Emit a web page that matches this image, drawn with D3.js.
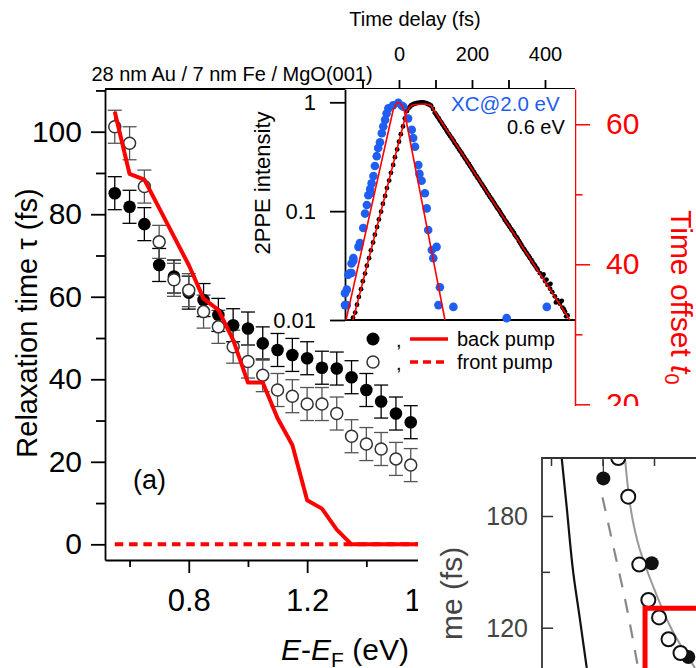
<!DOCTYPE html>
<html>
<head>
<meta charset="utf-8">
<script src="https://cdn.jsdelivr.net/npm/d3@7"></script>
<style>
  body { margin: 0; background: #fff; }
  svg { display: block; font-family: "Liberation Sans", Arial, sans-serif; }
</style>
</head>
<body>
<svg id="chart" width="696" height="668"></svg>
<script>
// ---- panel (a): relaxation time vs energy ----
const energy = [0.55, 0.60, 0.65, 0.70, 0.75, 0.80, 0.85, 0.90, 0.95, 1.00, 1.05,
                1.10, 1.15, 1.20, 1.25, 1.30, 1.35, 1.40, 1.45, 1.50, 1.55];
const tauBack  = [85.1, 81.8, 77.6, 67.7, 64.9, 61.0, 59.2, 55.6, 53.1, 52.3, 48.7,
                  47.1, 45.9, 45.1, 42.8, 42.6, 40.5, 37.4, 34.6, 31.7, 29.6];
const tauFront = [101.2, 97.2, 86.7, 73.3, 64.1, 61.6, 56.4, 52.7, 47.9, 44.3, 41.0,
                  37.4, 35.9, 34.0, 34.0, 31.7, 26.2, 24.3, 23.1, 20.7, 19.2];
const errBack  = [4, 4, 4, 4, 4, 4, 4, 4, 4, 4, 4, 4, 4, 4, 4, 4, 4, 4, 4, 4, 4];
const errFront = [4, 4, 4, 4, 4, 4, 4, 4, 4, 4, 4, 4, 4, 4, 4, 4, 4, 4, 4, 4, 4];

// time offset t0 (right axis)
const t0Energy = [0.55, 0.60, 0.65, 0.80, 0.85, 0.90, 0.95, 1.00, 1.05, 1.10,
                  1.15, 1.20, 1.25, 1.30, 1.35, 1.60];
const t0Back   = [61.8, 52.9, 52.1, 39.9, 35.1, 33.5, 29.2, 23.1, 23.1, 18.0,
                  14.2, 6.3, 5.1, 2.1, 0, 0];
const t0FrontEnergy = [0.55, 1.60];
const t0Front  = [0, 0];

const yTicksMain = [0, 20, 40, 60, 80, 100];
const xTicksMain = [0.8, 1.2, 1.6, 2.0];

// ---- inset: 2PPE intensity vs time delay ----
const xcPoints = [
  [-2, 0.99], [-16, 0.94], [12, 0.91], [-29, 0.88], [-34, 0.79], [-38, 0.69], [-43, 0.60],
  [-47, 0.52], [-52, 0.43], [-57, 0.38], [-61, 0.32], [-66, 0.26], [-70, 0.21], [-75, 0.18],
  [-79, 0.16], [-84, 0.14], [-79, 0.146], [-88, 0.114], [-93, 0.095], [-98, 0.070],
  [-107, 0.051], [-111, 0.047], [-125, 0.037], [-125, 0.035], [-130, 0.033], [-130, 0.027],
  [-139, 0.026], [-134, 0.027], [-143, 0.019], [-148, 0.0176], [-148, 0.0137], [-143, 0.0137],
  [8, 0.93], [25, 0.71], [35, 0.56], [39, 0.47], [44, 0.39], [53, 0.265], [56, 0.22],
  [62, 0.19], [71, 0.146], [76, 0.106], [80, 0.067], [90, 0.044], [103, 0.047], [94, 0.037],
  [112, 0.020], [108, 0.0137], [149, 0.0132], [295, 0.0104], [405, 0.0132]
];
const ev06Points = [
  [-126, 0.0105], [-120, 0.0117], [-115, 0.0138], [-110, 0.0163], [-104, 0.0192], [-99, 0.0227],
  [-93, 0.0267], [-88, 0.0315], [-82, 0.037], [-77, 0.0437], [-71, 0.0515], [-66, 0.0607],
  [-60, 0.0715], [-55, 0.084], [-49, 0.099], [-44, 0.117], [-38, 0.138], [-33, 0.163],
  [-27, 0.191], [-22, 0.225], [-16, 0.266], [-11, 0.313], [-5, 0.369], [0, 0.435], [5, 0.51],
  [11, 0.60], [16, 0.71], [22, 0.83], [26, 0.88], [30, 0.91], [34, 0.94], [38, 0.955],
  [42, 0.97], [47, 0.98], [51, 0.99], [55, 0.99], [59, 1.0], [63, 1.0], [67, 1.0], [71, 0.99],
  [75, 0.98], [79, 0.965], [84, 0.95], [88, 0.93], [93, 0.87], [98, 0.80], [102, 0.77],
  [105, 0.74], [109, 0.71], [112, 0.68], [116, 0.655], [119, 0.63], [123, 0.60], [126, 0.58],
  [130, 0.555], [133, 0.53], [137, 0.51], [140, 0.49], [144, 0.47], [147, 0.455], [150, 0.44],
  [153, 0.42], [157, 0.405], [160, 0.39], [164, 0.372], [167, 0.358], [171, 0.345], [174, 0.33],
  [178, 0.316], [181, 0.304], [185, 0.292], [188, 0.28], [192, 0.27], [195, 0.259], [198, 0.25],
  [201, 0.24], [205, 0.23], [208, 0.22], [212, 0.211], [215, 0.203], [219, 0.195], [222, 0.187],
  [226, 0.179], [229, 0.172], [233, 0.165], [236, 0.159], [239, 0.153], [242, 0.147],
  [246, 0.141], [249, 0.135], [253, 0.13], [256, 0.125], [260, 0.12], [263, 0.115],
  [267, 0.11], [270, 0.106], [274, 0.102], [277, 0.098], [280, 0.094], [283, 0.091],
  [287, 0.087], [290, 0.083], [294, 0.08], [297, 0.077], [301, 0.074], [304, 0.071],
  [308, 0.068], [311, 0.066], [315, 0.063], [318, 0.060], [322, 0.058], [325, 0.056],
  [329, 0.053], [332, 0.051], [335, 0.049], [338, 0.047], [342, 0.045], [345, 0.0435],
  [349, 0.0415], [352, 0.040], [356, 0.0385], [359, 0.037], [363, 0.0355], [366, 0.034],
  [370, 0.0325], [373, 0.0315], [377, 0.030], [380, 0.029], [386, 0.0269], [393, 0.025],
  [400, 0.0228], [407, 0.021], [414, 0.0194], [420, 0.018], [427, 0.0165], [434, 0.0152],
  [441, 0.0141], [448, 0.013], [455, 0.0119], [462, 0.011], [415, 0.0215], [430, 0.0145],
  [446, 0.0150], [452, 0.0125], [458, 0.0108], [396, 0.0262], [404, 0.0235]
];
const xcFit   = [[-145, 0.01], [-16, 0.85], [-10, 0.93], [-5, 0.98], [-2, 1.0], [3, 0.98],
                 [8, 0.93], [14, 0.85], [126, 0.01]];
const ev06Fit = [[-126, 0.01], [21, 0.82], [30, 0.91], [37, 0.94], [44, 0.955], [71, 0.965],
                 [80, 0.955], [88, 0.93], [468, 0.01]];
const delayTicks = [-100, 0, 100, 200, 300, 400];
const delayLabels = [0, 200, 400];
const intensityTicks = [0.01, 0.1, 1];

// ---- part of panel (b) peeking in at the lower right ----
const bFilled = [[1.508, 200.2], [1.978, 154.6], [2.333, 104.3]];
const bOpen   = [[1.653, 211.1], [1.75, 190.4], [1.857, 153.9], [1.945, 134.9],
                 [2.049, 125.5], [2.141, 113.8], [2.257, 106.4]];
const bBlackLine = [[1.104, 211.1], [1.152, 185], [1.217, 149.2], [1.282, 124.1], [1.347, 98.4]];
const bGrayLine  = [[1.718, 211.1], [1.864, 161.7], [1.993, 142], [2.175, 118.8], [2.398, 98.4]];
const bGrayDash  = [[1.50, 190], [1.62, 160], [1.72, 135], [1.84, 100]];
const bTicksY = [120, 180];
const bMinorY = [150];
const bTicksX = [1.0, 1.5, 2.0];

const svg = d3.select('#chart');
svg.append('rect').attr('width', 696).attr('height', 668).attr('fill', '#fff');

// scales
const x = d3.scaleLinear().domain([0.517, 2.105]).range([105, 575]);
const yL = d3.scaleLinear().domain([-3.8, 110.35]).range([560, 89]);
const yR = d3.scaleLinear().domain([-2.24, 65.04]).range([560, 89]);

const styleAxis = (g, color, width) => {
	g.selectAll('path, line').attr('stroke', color).attr('stroke-width', width);
	g.selectAll('text').attr('fill', color).attr('font-family', null);
};

// top frame line
svg.append('line')
	.attr('x1', 105).attr('x2', 575).attr('y1', 89).attr('y2', 89)
	.attr('stroke', '#000').attr('stroke-width', 1.8);

// left axis
const gLeft = svg.append('g').attr('transform', 'translate(105,0)')
	.call(d3.axisLeft(yL).tickValues(yTicksMain).tickSize(14).tickSizeOuter(0).tickPadding(9))
	.attr('font-size', 30);
svg.append('g').attr('transform', 'translate(105,0)')
	.call(d3.axisLeft(yL).tickValues([10, 30, 50, 70, 90, 110]).tickSize(9).tickFormat(''))
	.call(g => g.select('.domain').remove())
	.call(g => styleAxis(g, '#000', 1.8));
styleAxis(gLeft, '#000', 1.8);

// bottom axis
const gBottom = svg.append('g').attr('transform', 'translate(0,560)')
	.call(d3.axisBottom(x).tickValues(xTicksMain).tickSize(13).tickSizeOuter(0)
		.tickPadding(16).tickFormat(d3.format('.1f')))
	.attr('font-size', 31);
svg.append('g').attr('transform', 'translate(0,560)')
	.call(d3.axisBottom(x).tickValues([0.6, 1.0, 1.4, 1.8]).tickSize(7).tickFormat(''))
	.call(g => g.select('.domain').remove())
	.call(g => styleAxis(g, '#000', 1.8));
styleAxis(gBottom, '#000', 1.8);

// right axis (red)
const gRight = svg.append('g').attr('transform', 'translate(575,0)')
	.call(d3.axisRight(yR).tickValues([0, 20, 40, 60]).tickSize(15).tickSizeOuter(0).tickPadding(16))
	.attr('font-size', 30);
svg.append('g').attr('transform', 'translate(575,0)')
	.call(d3.axisRight(yR).tickValues([10, 30, 50]).tickSize(7.5).tickFormat(''))
	.call(g => g.select('.domain').remove())
	.call(g => styleAxis(g, '#f00', 1.5));
styleAxis(gRight, '#f00', 1.5);

// ---- inset ----
const xT = d3.scaleLinear().domain([-147.9, 482.2]).range([345, 575]);
const yLog = d3.scaleLog().domain([0.01, 1.325]).range([320, 89]);

const inset = svg.append('g');
inset.append('rect')
	.attr('x', 345).attr('y', 89).attr('width', 230).attr('height', 231)
	.attr('fill', '#fff');

const gTop = svg.append('g').attr('transform', 'translate(0,89)')
	.call(d3.axisTop(xT).tickValues(delayTicks).tickSize(9).tickSizeOuter(0).tickPadding(19)
		.tickFormat(d => delayLabels.includes(d) ? d : ''))
	.attr('font-size', 20);
gTop.select('.domain').remove();
styleAxis(gTop, '#000', 1.8);

const gInsetL = inset.append('g').attr('transform', 'translate(345,0)')
	.call(d3.axisLeft(yLog).tickValues(intensityTicks).tickSize(15).tickSizeOuter(0).tickPadding(14)
		.tickFormat(d => d))
	.attr('font-size', 22);
styleAxis(gInsetL, '#000', 1.8);
inset.append('line')
	.attr('x1', 345).attr('x2', 575).attr('y1', 320).attr('y2', 320)
	.attr('stroke', '#000').attr('stroke-width', 1.8);

inset.selectAll('circle.ev06')
	.data(ev06Points)
	.join('circle')
	.attr('class', 'ev06')
	.attr('cx', d => xT(d[0]))
	.attr('cy', d => yLog(d[1]))
	.attr('r', 2.4)
	.attr('fill', '#000');

inset.selectAll('circle.xc')
	.data(xcPoints)
	.join('circle')
	.attr('class', 'xc')
	.attr('cx', d => xT(d[0]))
	.attr('cy', d => yLog(d[1]))
	.attr('r', 4.3)
	.attr('fill', '#1e5ef2');

const fitLine = d3.line().x(d => xT(d[0])).y(d => yLog(d[1]));
[xcFit, ev06Fit].forEach(fit => {
	inset.append('path')
		.attr('d', fitLine(fit))
		.attr('fill', 'none')
		.attr('stroke', '#f00')
		.attr('stroke-width', 1.6)
		.attr('stroke-linejoin', 'round');
});

inset.append('text')
	.attr('x', 451).attr('y', 111)
	.attr('font-size', 20.5).attr('fill', '#1e5ef2')
	.text('XC@2.0 eV');
inset.append('text')
	.attr('x', 507).attr('y', 134)
	.attr('font-size', 20).attr('fill', '#000')
	.text('0.6 eV');
inset.append('text')
	.attr('transform', 'translate(270,183) rotate(-90)')
	.attr('text-anchor', 'middle')
	.attr('font-size', 22)
	.text('2PPE intensity');

// ---- panel (a) data ----
const plot = svg.append('g');
const rows = energy.map((e, i) => ({
	e, back: tauBack[i], front: tauFront[i], eb: errBack[i], ef: errFront[i]
}));

const errBar = (sel, key, errKey, color) => {
	const g = sel.append('g').attr('stroke', color).attr('stroke-width', 1.3);
	rows.forEach(d => {
		const cx = x(d.e);
		const y1 = yL(d[key] - d[errKey]);
		const y2 = yL(d[key] + d[errKey]);
		g.append('line').attr('x1', cx).attr('x2', cx).attr('y1', y1).attr('y2', y2);
		g.append('line').attr('x1', cx - 7).attr('x2', cx + 7).attr('y1', y1).attr('y2', y1);
		g.append('line').attr('x1', cx - 7).attr('x2', cx + 7).attr('y1', y2).attr('y2', y2);
	});
};
errBar(plot, 'back', 'eb', '#000');
errBar(plot, 'front', 'ef', '#555');

plot.selectAll('circle.back')
	.data(rows)
	.join('circle')
	.attr('class', 'back')
	.attr('cx', d => x(d.e))
	.attr('cy', d => yL(d.back))
	.attr('r', 6.3)
	.attr('fill', '#000');

plot.selectAll('circle.front')
	.data(rows)
	.join('circle')
	.attr('class', 'front')
	.attr('cx', d => x(d.e))
	.attr('cy', d => yL(d.front))
	.attr('r', 6)
	.attr('fill', '#fff')
	.attr('stroke', '#333')
	.attr('stroke-width', 1.5);

const t0Line = d3.line().x(d => x(d[0])).y(d => yR(d[1]));
plot.append('path')
	.attr('d', t0Line(t0FrontEnergy.map((e, i) => [e, t0Front[i]])))
	.attr('fill', 'none')
	.attr('stroke', '#f00')
	.attr('stroke-width', 4)
	.attr('stroke-dasharray', '8.5,5.8');
plot.append('path')
	.attr('d', t0Line(t0Energy.map((e, i) => [e, t0Back[i]])))
	.attr('fill', 'none')
	.attr('stroke', '#f00')
	.attr('stroke-width', 4)
	.attr('stroke-linejoin', 'round');

// legend
const legend = svg.append('g').attr('font-size', 20);
legend.append('circle').attr('cx', 373).attr('cy', 339).attr('r', 6.5).attr('fill', '#000');
legend.append('circle').attr('cx', 373).attr('cy', 362).attr('r', 6).attr('fill', '#fff')
	.attr('stroke', '#333').attr('stroke-width', 1.5);
legend.append('text').attr('x', 396).attr('y', 347).text(',');
legend.append('text').attr('x', 396).attr('y', 370).text(',');
legend.append('line').attr('x1', 410).attr('x2', 448).attr('y1', 339).attr('y2', 339)
	.attr('stroke', '#f00').attr('stroke-width', 3.5);
legend.append('line').attr('x1', 410).attr('x2', 448).attr('y1', 362).attr('y2', 362)
	.attr('stroke', '#f00').attr('stroke-width', 3.5).attr('stroke-dasharray', '8,5');
legend.append('text').attr('x', 457).attr('y', 346).text('back pump');
legend.append('text').attr('x', 457).attr('y', 369).text('front pump');

// titles and labels
svg.append('text')
	.attr('x', 232).attr('y', 81)
	.attr('text-anchor', 'middle').attr('font-size', 20)
	.text('28 nm Au / 7 nm Fe / MgO(001)');
svg.append('text')
	.attr('x', 415).attr('y', 26)
	.attr('text-anchor', 'middle').attr('font-size', 20)
	.text('Time delay (fs)');
svg.append('text')
	.attr('x', 133).attr('y', 489)
	.attr('font-size', 27)
	.text('(a)');
svg.append('text')
	.attr('transform', 'translate(37,323) rotate(-90)')
	.attr('text-anchor', 'middle').attr('font-size', 29)
	.text('Relaxation time τ (fs)');

const tOff = svg.append('text')
	.attr('transform', 'translate(671,210) rotate(90)')
	.attr('font-size', 30).attr('fill', '#f00');
tOff.append('tspan').text('Time offset ');
tOff.append('tspan').attr('font-style', 'italic').text('t');
tOff.append('tspan').attr('font-size', 20).attr('dy', 6).text('0');

const xLab = svg.append('text')
	.attr('x', 345).attr('y', 660)
	.attr('text-anchor', 'middle').attr('font-size', 30);
xLab.append('tspan').attr('font-style', 'italic').text('E');
xLab.append('tspan').text('-');
xLab.append('tspan').attr('font-style', 'italic').text('E');
xLab.append('tspan').attr('font-size', 21).attr('dy', 7).text('F');
xLab.append('tspan').attr('dy', -7).text(' (eV)');

// ---- overlapping panel (b) corner ----
const over = svg.append('g');
over.append('rect')
	.attr('x', 418).attr('y', 406).attr('width', 278).attr('height', 262)
	.attr('fill', '#fff');

const xb = d3.scaleLinear().domain([1, 2]).range([551, 654]);
const yb = d3.scaleLinear().domain([120, 180]).range([627.7, 516]);

over.append('clipPath').attr('id', 'clip-b')
	.append('rect').attr('x', 542).attr('y', 458).attr('width', 160).attr('height', 220);

const bPlot = over.append('g').attr('clip-path', 'url(#clip-b)');
const bLine = d3.line().x(d => xb(d[0])).y(d => yb(d[1])).curve(d3.curveMonotoneY);
bPlot.append('path').attr('d', bLine(bBlackLine))
	.attr('fill', 'none').attr('stroke', '#111').attr('stroke-width', 2.2);
bPlot.append('path').attr('d', bLine(bGrayDash))
	.attr('fill', 'none').attr('stroke', '#888').attr('stroke-width', 2.2)
	.attr('stroke-dasharray', '14,12');
bPlot.append('path').attr('d', bLine(bGrayLine))
	.attr('fill', 'none').attr('stroke', '#999').attr('stroke-width', 2);
bPlot.append('line')
	.attr('x1', xb(bFilled[0][0])).attr('x2', xb(bFilled[0][0]))
	.attr('y1', yb(bFilled[0][1]) - 18).attr('y2', yb(bFilled[0][1]))
	.attr('stroke', '#333').attr('stroke-width', 1.2);
bPlot.selectAll('circle.bf')
	.data(bFilled)
	.join('circle')
	.attr('class', 'bf')
	.attr('cx', d => xb(d[0])).attr('cy', d => yb(d[1]))
	.attr('r', 7).attr('fill', '#111');
bPlot.selectAll('circle.bo')
	.data(bOpen)
	.join('circle')
	.attr('class', 'bo')
	.attr('cx', d => xb(d[0])).attr('cy', d => yb(d[1]))
	.attr('r', 7).attr('fill', '#fff').attr('stroke', '#111').attr('stroke-width', 2);
bPlot.append('path')
	.attr('d', `M${xb(1.913)},700V${yb(130.4)}H720`)
	.attr('fill', 'none').attr('stroke', '#f00').attr('stroke-width', 5);

const gbL = over.append('g').attr('transform', 'translate(542,0)')
	.call(d3.axisRight(yb).tickValues(bTicksY).tickSize(11).tickFormat(''))
	.call(g => g.select('.domain').remove());
styleAxis(gbL, '#333', 1.5);
over.append('g').attr('transform', 'translate(542,0)')
	.call(d3.axisRight(yb).tickValues(bMinorY).tickSize(8).tickFormat(''))
	.call(g => g.select('.domain').remove())
	.call(g => styleAxis(g, '#333', 1.5));
bTicksY.forEach(v => {
	over.append('text')
		.attr('x', 528).attr('y', yb(v) + 9)
		.attr('text-anchor', 'end').attr('font-size', 25).attr('fill', '#444')
		.text(v);
});
const gbT = over.append('g').attr('transform', 'translate(0,458)')
	.call(d3.axisBottom(xb).tickValues(bTicksX).tickSize(8).tickFormat(''))
	.call(g => g.select('.domain').remove());
styleAxis(gbT, '#333', 1.5);
over.append('path')
	.attr('d', 'M542,668V458H696')
	.attr('fill', 'none').attr('stroke', '#333').attr('stroke-width', 1.8);
over.append('text')
	.attr('transform', 'translate(462,640) rotate(-90)')
	.attr('font-size', 30).attr('fill', '#444')
	.text('me (fs)');
</script>
</body>
</html>
